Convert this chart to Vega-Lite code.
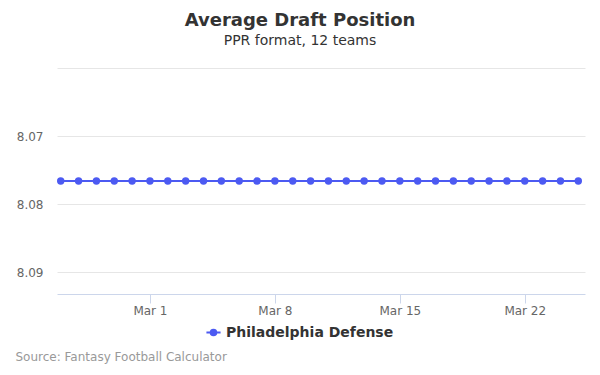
{
  "$schema": "https://vega.github.io/schema/vega-lite/v6.json",
  "width": 528,
  "height": 226,
  "autosize": "none",
  "padding": {"left": 57, "top": 68, "right": 15, "bottom": 81},
  "background": "#ffffff",
  "config": {
    "font": "DejaVu Sans",
    "view": {"stroke": null}
  },
  "title": {
    "text": "Average Draft Position",
    "subtitle": "PPR format, 12 teams",
    "anchor": "middle",
    "frame": "group",
    "dx": -21,
    "offset": 20,
    "fontSize": 18,
    "fontWeight": "bold",
    "color": "#333333",
    "subtitleFontSize": 14,
    "subtitleColor": "#333333",
    "subtitlePadding": 4
  },
  "data": {
    "values": [
      {"date": "2020-02-25", "adp": 8.0766, "player": "Philadelphia Defense"},
      {"date": "2020-02-26", "adp": 8.0766, "player": "Philadelphia Defense"},
      {"date": "2020-02-27", "adp": 8.0766, "player": "Philadelphia Defense"},
      {"date": "2020-02-28", "adp": 8.0766, "player": "Philadelphia Defense"},
      {"date": "2020-02-29", "adp": 8.0766, "player": "Philadelphia Defense"},
      {"date": "2020-03-01", "adp": 8.0766, "player": "Philadelphia Defense"},
      {"date": "2020-03-02", "adp": 8.0766, "player": "Philadelphia Defense"},
      {"date": "2020-03-03", "adp": 8.0766, "player": "Philadelphia Defense"},
      {"date": "2020-03-04", "adp": 8.0766, "player": "Philadelphia Defense"},
      {"date": "2020-03-05", "adp": 8.0766, "player": "Philadelphia Defense"},
      {"date": "2020-03-06", "adp": 8.0766, "player": "Philadelphia Defense"},
      {"date": "2020-03-07", "adp": 8.0766, "player": "Philadelphia Defense"},
      {"date": "2020-03-08", "adp": 8.0766, "player": "Philadelphia Defense"},
      {"date": "2020-03-09", "adp": 8.0766, "player": "Philadelphia Defense"},
      {"date": "2020-03-10", "adp": 8.0766, "player": "Philadelphia Defense"},
      {"date": "2020-03-11", "adp": 8.0766, "player": "Philadelphia Defense"},
      {"date": "2020-03-12", "adp": 8.0766, "player": "Philadelphia Defense"},
      {"date": "2020-03-13", "adp": 8.0766, "player": "Philadelphia Defense"},
      {"date": "2020-03-14", "adp": 8.0766, "player": "Philadelphia Defense"},
      {"date": "2020-03-15", "adp": 8.0766, "player": "Philadelphia Defense"},
      {"date": "2020-03-16", "adp": 8.0766, "player": "Philadelphia Defense"},
      {"date": "2020-03-17", "adp": 8.0766, "player": "Philadelphia Defense"},
      {"date": "2020-03-18", "adp": 8.0766, "player": "Philadelphia Defense"},
      {"date": "2020-03-19", "adp": 8.0766, "player": "Philadelphia Defense"},
      {"date": "2020-03-20", "adp": 8.0766, "player": "Philadelphia Defense"},
      {"date": "2020-03-21", "adp": 8.0766, "player": "Philadelphia Defense"},
      {"date": "2020-03-22", "adp": 8.0766, "player": "Philadelphia Defense"},
      {"date": "2020-03-23", "adp": 8.0766, "player": "Philadelphia Defense"},
      {"date": "2020-03-24", "adp": 8.0766, "player": "Philadelphia Defense"},
      {"date": "2020-03-25", "adp": 8.0766, "player": "Philadelphia Defense"}
    ]
  },
  "mark": {
    "type": "line",
    "strokeWidth": 2,
    "point": {"size": 55, "filled": true, "opacity": 1}
  },
  "encoding": {
    "x": {
      "field": "date",
      "type": "temporal",
      "scale": {
        "type": "utc",
        "domain": [
          {"year": 2020, "month": 2, "date": 24, "hours": 19, "utc": true},
          {"year": 2020, "month": 3, "date": 25, "hours": 9, "utc": true}
        ]
      },
      "axis": {
        "values": [
          {"year": 2020, "month": 3, "date": 1, "utc": true},
          {"year": 2020, "month": 3, "date": 8, "utc": true},
          {"year": 2020, "month": 3, "date": 15, "utc": true},
          {"year": 2020, "month": 3, "date": 22, "utc": true}
        ],
        "labelExpr": "utcFormat(datum.value, '%b %-d')",
        "grid": false,
        "domainColor": "#ccd6eb",
        "tickColor": "#ccd6eb",
        "tickSize": 9,
        "labelFontSize": 12,
        "labelColor": "#666666",
        "labelPadding": 2,
        "title": "Source: Fantasy Football Calculator",
        "titleFontSize": 12,
        "titleFontWeight": "normal",
        "titleColor": "#999999",
        "titleAnchor": "start",
        "titleAlign": "left",
        "titleBaseline": "middle",
        "titleX": -42,
        "titleY": 62
      }
    },
    "y": {
      "field": "adp",
      "type": "quantitative",
      "scale": {"domain": [8.06, 8.0932], "reverse": true, "zero": false, "nice": false},
      "axis": {
        "values": [8.06, 8.07, 8.08, 8.09],
        "labelExpr": "datum.value < 8.065 ? '' : format(datum.value, '.2f')",
        "domain": false,
        "ticks": false,
        "gridColor": "#e6e6e6",
        "labelFontSize": 12,
        "labelColor": "#666666",
        "labelPadding": 14,
        "title": null
      }
    },
    "color": {
      "field": "player",
      "type": "nominal",
      "scale": {"range": ["#4c5af2"]},
      "legend": {
        "title": null,
        "orient": "none",
        "legendX": 148,
        "legendY": 256,
        "labelLimit": 400,
        "symbolType": "M-1,0H1M0.4,0A0.4,0.4 0 1,1 -0.4,0A0.4,0.4 0 1,1 0.4,0Z",
        "symbolSize": 200,
        "symbolStrokeWidth": 2,
        "symbolFillColor": "#4c5af2",
        "labelFontSize": 14,
        "labelFontWeight": "bold",
        "labelColor": "#333333"
      }
    }
  }
}
